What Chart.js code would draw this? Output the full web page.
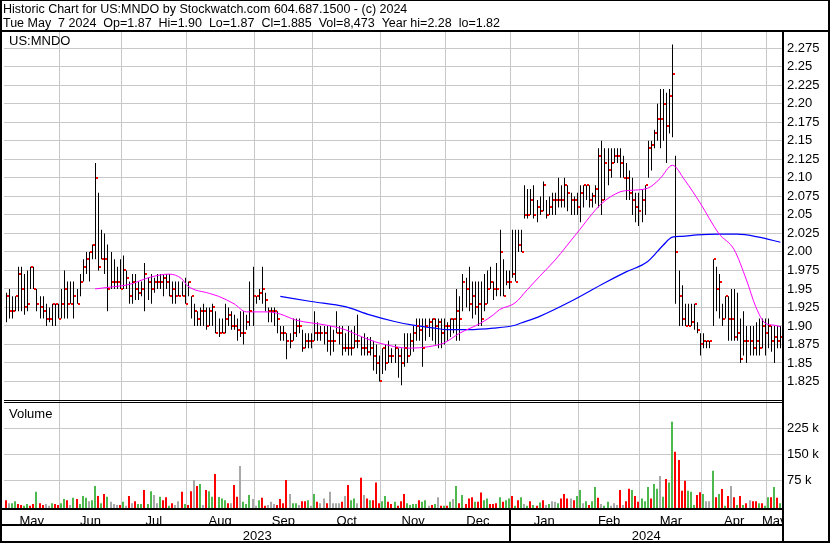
<!DOCTYPE html>
<html lang="en">
<head>
<meta charset="UTF-8">
<title>US:MNDO Historic Chart</title>
<script src="https://cdn.jsdelivr.net/npm/chart.js"></script>
<style>
  html, body { margin: 0; padding: 0; background: #fff; }
  canvas { display: block; }
</style>
</head>
<body>
<canvas id="chart" width="830" height="543"></canvas>
<script>
const title1 = 'Historic Chart for US:MNDO by Stockwatch.com 604.687.1500 - (c) 2024';
const title2 = 'Tue May  7 2024  Op=1.87  Hi=1.90  Lo=1.87  Cl=1.885  Vol=8,473  Year hi=2.28  lo=1.82';
const symbol = 'US:MNDO';

// trading days shown per month, May 2023 .. May 2024
const monthNames = ['May','Jun','Jul','Aug','Sep','Oct','Nov','Dec','Jan','Feb','Mar','Apr','May'];
const monthDays  = [18, 20, 21, 22, 19, 22, 21, 21, 22, 20, 20, 21, 5];
const yearNames  = ['2023', '2024'];
const yearMonths = [8, 5];

const priceTicks  = [1.825,1.85,1.875,1.90,1.925,1.95,1.975,2.00,2.025,2.05,2.075,2.10,2.125,2.15,2.175,2.20,2.225,2.25,2.275];
const volumeTicks = [75, 150, 225];

const highs = [
  1.945,1.95,1.94,1.94,1.98,1.98,1.97,1.975,1.98,1.98,
  1.95,1.94,1.94,1.93,1.925,1.93,1.93,1.93,1.95,1.975,
  1.96,1.96,1.96,1.95,1.97,1.99,2.00,2.00,2.01,2.12,
  2.08,2.03,2.025,2.01,2.00,1.99,1.98,1.99,1.995,1.975,
  1.96,1.97,1.97,1.96,1.96,1.985,1.965,1.97,1.965,1.97,
  1.97,1.97,1.97,1.97,1.96,1.96,1.96,1.96,1.965,1.96,
  1.94,1.93,1.92,1.925,1.93,1.925,1.925,1.93,1.92,1.91,
  1.91,1.93,1.925,1.92,1.915,1.91,1.92,1.92,1.915,1.96,
  1.98,1.94,1.95,1.98,1.945,1.925,1.925,1.925,1.92,1.90,
  1.90,1.89,1.89,1.91,1.91,1.91,1.895,1.89,1.89,1.89,
  1.92,1.905,1.90,1.90,1.90,1.90,1.895,1.92,1.90,1.90,
  1.89,1.90,1.895,1.90,1.915,1.885,1.89,1.885,1.885,1.88,
  1.875,1.86,1.87,1.875,1.88,1.87,1.875,1.87,1.87,1.89,
  1.89,1.89,1.90,1.91,1.91,1.91,1.91,1.91,1.91,1.91,
  1.91,1.91,1.91,1.905,1.91,1.91,1.95,1.94,1.97,1.965,
  1.98,1.96,1.96,1.96,1.96,1.97,1.975,1.98,1.96,1.985,
  2.03,1.99,1.975,1.975,2.03,2.03,2.03,2.03,2.09,2.085,
  2.085,2.09,2.07,2.075,2.095,2.07,2.075,2.08,2.08,2.10,
  2.09,2.10,2.09,2.08,2.075,2.08,2.09,2.09,2.09,2.09,
  2.08,2.09,2.14,2.15,2.14,2.14,2.14,2.14,2.14,2.14,
  2.13,2.12,2.11,2.10,2.08,2.08,2.085,2.09,2.15,2.15,
  2.165,2.20,2.22,2.22,2.215,2.22,2.28,2.13,1.975,1.955,
  1.93,1.93,1.93,1.93,1.905,1.89,1.89,1.88,1.88,1.99,
  1.98,1.97,1.93,1.94,1.94,1.95,1.95,1.945,1.91,1.92,
  1.90,1.90,1.90,1.905,1.91,1.91,1.91,1.91,1.90,1.90,1.90,1.90
];

const lows = [
  1.905,1.91,1.91,1.92,1.92,1.92,1.915,1.92,1.95,1.95,
  1.92,1.91,1.91,1.90,1.905,1.90,1.90,1.91,1.91,1.91,
  1.91,1.93,1.91,1.93,1.94,1.96,1.97,1.96,1.99,1.99,
  1.975,1.99,1.97,1.92,1.95,1.95,1.95,1.95,1.95,1.95,
  1.93,1.93,1.935,1.935,1.94,1.92,1.935,1.93,1.945,1.95,
  1.95,1.94,1.95,1.94,1.93,1.93,1.94,1.94,1.93,1.94,
  1.91,1.90,1.90,1.90,1.90,1.895,1.90,1.90,1.89,1.885,
  1.89,1.89,1.90,1.895,1.895,1.88,1.885,1.875,1.895,1.90,
  1.90,1.93,1.935,1.93,1.92,1.905,1.905,1.90,1.89,1.88,
  1.88,1.855,1.87,1.88,1.885,1.89,1.865,1.87,1.87,1.87,
  1.88,1.88,1.88,1.875,1.865,1.86,1.865,1.89,1.875,1.86,
  1.865,1.86,1.86,1.87,1.87,1.86,1.86,1.86,1.86,1.84,
  1.835,1.825,1.835,1.84,1.85,1.85,1.85,1.83,1.82,1.845,
  1.85,1.86,1.865,1.88,1.88,1.845,1.88,1.885,1.88,1.875,
  1.87,1.87,1.875,1.88,1.885,1.89,1.88,1.88,1.92,1.925,
  1.92,1.91,1.915,1.90,1.90,1.92,1.93,1.95,1.935,1.94,
  1.94,1.94,1.955,1.95,1.965,1.96,2.00,2.00,2.045,2.045,
  2.05,2.045,2.04,2.05,2.055,2.045,2.05,2.05,2.05,2.06,
  2.06,2.06,2.055,2.05,2.05,2.05,2.04,2.06,2.07,2.06,
  2.06,2.065,2.06,2.05,2.07,2.09,2.10,2.12,2.12,2.10,
  2.10,2.07,2.07,2.05,2.04,2.035,2.04,2.05,2.10,2.11,
  2.14,2.15,2.14,2.15,2.12,2.16,2.155,1.93,1.90,1.90,
  1.90,1.90,1.90,1.895,1.89,1.86,1.87,1.87,1.87,1.90,
  1.92,1.91,1.90,1.91,1.88,1.88,1.88,1.88,1.85,1.86,
  1.85,1.86,1.86,1.86,1.86,1.87,1.86,1.87,1.865,1.85,1.87,1.87
];

const closes = [
  1.94,1.92,1.92,1.94,1.97,1.95,1.925,1.93,1.98,1.95,
  1.93,1.925,1.92,1.91,1.91,1.93,1.93,1.91,1.93,1.95,
  1.93,1.93,1.94,1.93,1.96,1.98,1.99,2.00,2.01,2.10,
  1.98,1.99,1.99,1.95,1.96,1.96,1.96,1.95,1.975,1.965,
  1.94,1.96,1.95,1.945,1.95,1.97,1.96,1.95,1.96,1.96,
  1.96,1.965,1.96,1.94,1.95,1.94,1.94,1.94,1.93,1.96,
  1.94,1.92,1.91,1.92,1.92,1.90,1.92,1.925,1.89,1.89,
  1.89,1.91,1.915,1.90,1.90,1.895,1.89,1.89,1.905,1.92,
  1.94,1.94,1.945,1.95,1.935,1.92,1.92,1.92,1.91,1.89,
  1.89,1.88,1.88,1.89,1.90,1.90,1.87,1.88,1.88,1.88,
  1.89,1.89,1.89,1.89,1.88,1.88,1.88,1.89,1.89,1.87,
  1.87,1.87,1.87,1.88,1.88,1.87,1.87,1.865,1.87,1.86,
  1.85,1.825,1.87,1.85,1.86,1.86,1.87,1.86,1.85,1.87,
  1.86,1.88,1.89,1.90,1.895,1.87,1.90,1.905,1.91,1.90,
  1.905,1.89,1.90,1.90,1.91,1.91,1.92,1.91,1.96,1.95,
  1.93,1.94,1.925,1.93,1.91,1.93,1.95,1.96,1.95,1.95,
  2.00,1.94,1.96,1.96,1.97,1.96,2.01,2.00,2.05,2.05,
  2.07,2.05,2.06,2.055,2.09,2.05,2.06,2.07,2.07,2.07,
  2.07,2.09,2.08,2.07,2.07,2.06,2.08,2.09,2.09,2.07,
  2.075,2.085,2.13,2.07,2.12,2.11,2.12,2.13,2.13,2.12,
  2.10,2.10,2.08,2.07,2.06,2.055,2.07,2.09,2.14,2.145,
  2.16,2.18,2.18,2.20,2.17,2.21,2.24,2.00,1.94,1.91,
  1.90,1.90,1.905,1.93,1.895,1.875,1.88,1.88,1.88,1.99,
  1.95,1.96,1.91,1.94,1.91,1.91,1.885,1.89,1.855,1.88,
  1.88,1.88,1.87,1.88,1.87,1.90,1.89,1.90,1.88,1.885,1.88,1.885
];

// daily volume in thousands of shares, and bar colour: g up, r down, n unchanged
const volumeK = [
  17,8,8,14,6,3,1,6,1,6,
  41,8,3,6,1,8,6,3,8,20,
  17,3,24,20,6,29,24,14,17,58,
  29,8,35,27,12,6,3,3,12,1,
  29,8,14,6,6,46,6,43,32,8,
  27,17,25,1,8,3,14,41,6,3,
  43,75,58,64,3,46,43,27,93,26,
  22,17,8,8,61,27,116,12,6,32,
  20,1,17,24,1,3,12,6,3,20,
  8,75,35,8,8,3,14,14,17,1,
  35,12,8,22,8,41,8,8,8,12,
  29,61,17,22,8,82,32,22,17,17,
  68,8,14,29,12,6,12,1,14,35,
  8,3,6,6,17,12,17,1,3,6,
  25,1,1,1,12,20,58,8,32,6,
  22,25,12,12,39,17,22,6,6,8,
  25,12,17,22,29,1,17,25,6,1,
  14,3,1,10,17,3,6,14,12,8,
  22,35,22,22,17,29,46,8,14,3,
  14,55,24,6,1,12,1,8,3,46,
  3,14,50,46,29,12,22,14,55,22,
  64,50,87,27,78,68,244,157,133,44,
  73,44,41,3,32,40,35,14,14,102,
  25,35,49,1,29,58,25,3,29,3,
  8,17,14,14,8,8,1,25,25,55,24,8
];
const volumeDir = (
  'rnggrrggrr' + 'grrnngrrgg' + 'rngrgggngg' + 'rgrgnnnrgn' + 'rnrggrggnn' +
  'grrgrnnrgr' + 'rnrgnrggrg' + 'ggrnrrnggg' + 'nngrrnnnrr' + 'rrnggnrrgn' +
  'grnnrnnnnr' + 'nrggnrnrgr' + 'rrggrrgrrr' + 'ggggrggnrg' + 'nrgrgngrgr' +
  'rrgrrggrrr' + 'grggrgrgng' + 'rgrgrngnng' + 'rrrnrggngr' + 'ggrnggnnnr' +
  'nrrgrrgggr' + 'ggngrggrrr' + 'rgggrrgnng' + 'rgrgrnrgrg' + 'rnrrgrggrg' + 'rg'
).split('');

// moving averages: [trading day, value]
const maShort = [
  [29,1.950],[35,1.953],[40,1.956],[47,1.966],[53,1.970],[57,1.964],[59,1.954],[66,1.944],
  [69,1.940],[74,1.930],[78,1.919],[85,1.919],[89,1.916],[94,1.908],[104,1.901],[110,1.895],
  [115,1.886],[121,1.877],[131,1.870],[137,1.872],[142,1.877],[147,1.890],[154,1.904],[158,1.915],
  [160,1.922],[165,1.931],[169,1.949],[173,1.967],[178,1.989],[185,2.025],[193,2.065],[199,2.081],
  [202,2.083],[208,2.086],[212,2.099],[216,2.117],[220,2.097],[225,2.066],[231,2.025],[236,2.003],
  [240,1.962],[243,1.926],[246,1.904],[249,1.901],[251,1.899]
];
const maLong = [
  [89,1.940],[99,1.933],[110,1.926],[118,1.915],[126,1.906],[132,1.901],[139,1.897],[143,1.895],
  [150,1.895],[158,1.897],[165,1.901],[167,1.904],[173,1.913],[183,1.933],[194,1.958],[201,1.973],
  [208,1.987],[213,2.009],[216,2.020],[219,2.021],[224,2.023],[231,2.024],[237,2.024],[244,2.020],
  [251,2.013]
];

const FONT = '"Liberation Sans", Arial, sans-serif';
Chart.defaults.font.family = FONT;
Chart.defaults.font.size = 13;
Chart.defaults.color = '#000';

const N = highs.length;
const monthStarts = [];
let acc = 0;
monthDays.forEach(d => { monthStarts.push(acc); acc += d; });
const gridAt = monthStarts.slice(1).map(s => s - 0.5);
const monthMids = monthStarts.map((s, i) => s - 0.5 + monthDays[i] / 2);
const yearStart = monthStarts[yearMonths[0]] - 0.5;
const yearMids = [(-0.5 + yearStart) / 2, (yearStart + N - 0.5) / 2];

const volColors = { g: '#4db84d', r: '#ff0000', n: '#a8a8a8' };
const gridColor = '#c8c8c8';
const volMin = -5.8;

function priceLabel(v) {
  let s = v.toFixed(3);
  if (s.endsWith('0')) s = s.slice(0, -1);
  return s;
}

const xBase = { type: 'linear', min: -0.5, max: N - 0.5, offset: false, border: { display: false } };

// keep thin bars and close ticks on whole pixels so they stay crisp
const snap = {
  id: 'snap',
  beforeDatasetsDraw(chart) {
    const xs = chart.scales.x;
    chart.data.datasets.forEach((ds, di) => {
      const meta = chart.getDatasetMeta(di);
      meta.data.forEach((el, i) => {
        const px = Math.round(xs.getPixelForValue(i));
        if (ds.label === 'range') el.x = px + 0.5;
        else if (ds.label === 'volume') el.x = px;
        else if (ds.label === 'close') { el.x = px + 2; el.y = Math.round(el.y); }
      });
    });
  }
};

const frame = {
  id: 'frame',
  beforeDraw(chart) {
    const c = chart.ctx;
    c.save();
    c.fillStyle = '#fff';
    c.fillRect(0, 0, chart.width, chart.height);
    c.restore();
  },
  afterDraw(chart) {
    const c = chart.ctx, a = chart.chartArea, W = chart.width, H = chart.height;
    const sep = chart.scales.y.bottom;
    c.save();
    c.fillStyle = '#fff';
    c.fillRect(a.right, a.bottom + 1, W - a.right, H - a.bottom);
    c.fillStyle = '#000';
    c.fillRect(0, 0, W, 1);
    c.fillRect(0, 0, 2, H);
    c.fillRect(W - 2, 0, 2, H);
    c.fillRect(0, H - 2, W, 2);
    c.fillRect(0, 30, W, 2);
    c.fillRect(a.right, 30, 2, H - 30);
    c.fillRect(a.left, sep, a.right - a.left, 1);
    c.fillRect(a.left, sep + 2, a.right - a.left, 1);
    c.fillRect(0, a.bottom, a.right, 2);
    c.fillRect(0, a.bottom + 16, a.right, 2);
    const jan = Math.round(chart.scales.x.getPixelForValue(yearStart)) - 1;
    c.fillRect(jan, a.bottom, 2, H - a.bottom);
    c.textBaseline = 'alphabetic';
    c.textAlign = 'left';
    c.font = '12.5px ' + FONT;
    c.fillText(title1, 3, 13);
    c.fillText(title2, 3, 27);
    c.font = '13px ' + FONT;
    c.fillText(symbol, 9, 45);
    c.fillText('Volume', 9, sep + 18);
    c.restore();
  }
};

new Chart(document.getElementById('chart'), {
  type: 'bar',
  data: {
    datasets: [
      {
        label: 'close',
        type: 'line',
        data: closes.map((c, i) => ({ x: i, y: c })),
        showLine: false,
        pointStyle: 'rect',
        pointRadius: 1.42,
        pointBackgroundColor: '#ff0000',
        pointBorderWidth: 0,
        yAxisID: 'y',
        order: 1
      },
      {
        label: 'ma short',
        type: 'line',
        data: maShort.map(p => ({ x: p[0], y: p[1] })),
        borderColor: '#ff00ff',
        borderWidth: 1,
        pointRadius: 0,
        cubicInterpolationMode: 'monotone',
        yAxisID: 'y',
        order: 2
      },
      {
        label: 'ma long',
        type: 'line',
        data: maLong.map(p => ({ x: p[0], y: p[1] })),
        borderColor: '#0000ff',
        borderWidth: 1.2,
        pointRadius: 0,
        cubicInterpolationMode: 'monotone',
        yAxisID: 'y',
        order: 2
      },
      {
        label: 'range',
        type: 'bar',
        data: highs.map((h, i) => ({ x: i, y: [lows[i], h] })),
        backgroundColor: '#000',
        barThickness: 1,
        inflateAmount: 0,
        grouped: false,
        yAxisID: 'y',
        order: 3
      },
      {
        label: 'volume',
        type: 'bar',
        data: volumeK.map((v, i) => ({ x: i, y: v })),
        backgroundColor: volumeDir.map(d => volColors[d]),
        barThickness: 2,
        inflateAmount: 0,
        grouped: false,
        base: volMin,
        yAxisID: 'yv',
        order: 4
      }
    ]
  },
  options: {
    responsive: false,
    animation: false,
    events: [],
    layout: { padding: { left: 2, top: 32, right: 0, bottom: 0 } },
    plugins: { legend: { display: false }, tooltip: { enabled: false } },
    scales: {
      x: Object.assign({}, xBase, {
        grid: { color: gridColor, offset: false, drawTicks: false },
        ticks: { display: false },
        afterBuildTicks: s => { s.ticks = gridAt.map(v => ({ value: v })); },
        afterFit: s => { s.height = 0; }
      }),
      xm: Object.assign({}, xBase, {
        position: 'bottom',
        grid: { display: false, drawTicks: false },
        ticks: { autoSkip: false, maxRotation: 0, padding: 6, callback: (v, i) => monthNames[i] },
        afterBuildTicks: s => { s.ticks = monthMids.map(v => ({ value: v })); },
        afterFit: s => { s.height = 17; }
      }),
      xy: Object.assign({}, xBase, {
        position: 'bottom',
        grid: { display: false, drawTicks: false },
        ticks: { autoSkip: false, maxRotation: 0, padding: 4, callback: (v, i) => yearNames[i] },
        afterBuildTicks: s => { s.ticks = yearMids.map(v => ({ value: v })); },
        afterFit: s => { s.height = 18; }
      }),
      y: {
        type: 'linear',
        position: 'right',
        stack: 'panes',
        stackWeight: 368,
        min: 1.80,
        max: 2.297,
        border: { display: false },
        grid: { color: gridColor, drawTicks: false },
        ticks: { autoSkip: false, padding: 5, callback: v => priceLabel(v) },
        afterBuildTicks: s => { s.ticks = priceTicks.map(v => ({ value: v })); },
        afterFit: s => { s.width = 48; }
      },
      yv: {
        type: 'linear',
        position: 'right',
        stack: 'panes',
        stackWeight: 108,
        min: volMin,
        max: 307,
        border: { display: false },
        grid: { color: gridColor, drawTicks: false },
        ticks: { autoSkip: false, padding: 5, callback: v => v + ' k' },
        afterBuildTicks: s => { s.ticks = volumeTicks.map(v => ({ value: v })); },
        afterFit: s => { s.width = 48; }
      }
    }
  },
  plugins: [snap, frame]
});
</script>
</body>
</html>
